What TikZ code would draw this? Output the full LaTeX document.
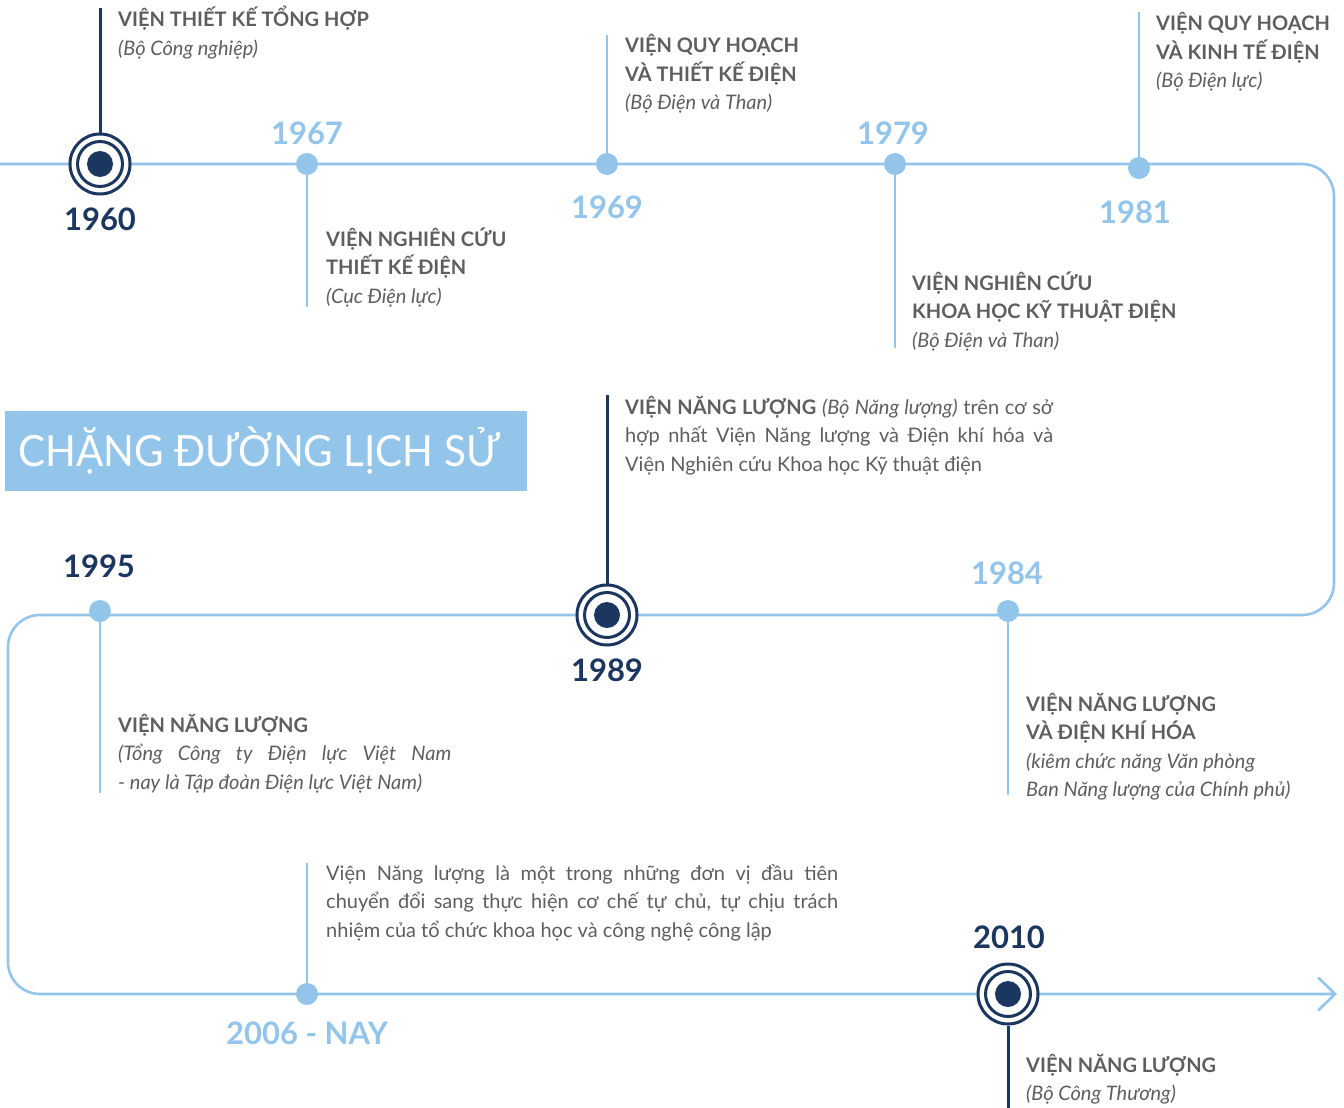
\documentclass[tikz,border=0pt]{standalone}
\usepackage{fontspec}
\setmainfont{Lato}
\usetikzlibrary{arrows.meta}
\definecolor{lblue}{HTML}{93C5EA}
\definecolor{navy}{HTML}{1B365F}
\definecolor{txt}{HTML}{5E5E5E}
\tikzset{
  tline/.style={lblue, line width=2.6pt},
  stemlight/.style={lblue, line width=2.6pt},
  stemdark/.style={navy, line width=3pt},
  dotlight/.style={circle, fill=lblue, minimum size=22pt, inner sep=0pt},
  ringouter/.style={circle, draw=navy, line width=3pt, fill=white, minimum size=60pt, inner sep=0pt},
  ringinner/.style={circle, draw=navy, line width=3pt, minimum size=45pt, inner sep=0pt},
  ringdot/.style={circle, fill=navy, minimum size=26pt, inner sep=0pt},
  yearlight/.style={anchor=base, inner sep=0pt, text=lblue, font=\fontsize{31}{31}\selectfont\bfseries},
  yeardark/.style={anchor=base, inner sep=0pt, text=navy, font=\fontsize{31}{31}\selectfont\bfseries},
  desc/.style={anchor=base west, inner sep=0pt, text=txt, align=left, font=\fontsize{20}{28.5}\selectfont},
}
\begin{document}
\begin{tikzpicture}[x=1pt, y=-1pt]
\useasboundingbox[fill=white] (0,0) rectangle (1344,1108);

% timeline
\coordinate (tstart) at (0,164);
\coordinate (tend) at (1337,994);
\draw[tline, -{Straight Barb[length=17pt, width=33pt, line width=2.6pt]}]
  (tstart) -- (1302,164) arc[start angle=270, end angle=360, radius=32]
  -- (1334,583) arc[start angle=0, end angle=90, radius=32]
  -- (40,615) arc[start angle=270, end angle=180, radius=32]
  -- (8,962) arc[start angle=180, end angle=90, radius=32]
  -- (tend);

% positions
\coordinate (p1960) at (100,164);
\coordinate (p1967) at (307,164);
\coordinate (p1969) at (607,164);
\coordinate (p1979) at (895,164);
\coordinate (p1981) at (1139,168);
\coordinate (p1984) at (1008,611);
\coordinate (p1989) at (607,615);
\coordinate (p1995) at (100,611);
\coordinate (p2006) at (307,994);
\coordinate (p2010) at (1008,994);

% stem ends
\coordinate (e1960) at (100,8);
\coordinate (e1967) at (307,307);
\coordinate (e1969) at (607,35);
\coordinate (e1979) at (895,348);
\coordinate (e1981) at (1139,12);
\coordinate (e1984) at (1008,795);
\coordinate (e1989) at (607,395);
\coordinate (e1995) at (100,793);
\coordinate (e2006) at (307,863);
\coordinate (e2010) at (1008,1108);

% light stems and dots
\draw[stemlight] (p1967) -- (e1967);
\draw[stemlight] (p1969) -- (e1969);
\draw[stemlight] (p1979) -- (e1979);
\draw[stemlight] (p1981) -- (e1981);
\draw[stemlight] (p1984) -- (e1984);
\draw[stemlight] (p1995) -- (e1995);
\draw[stemlight] (p2006) -- (e2006);
\node[dotlight] (d1967) at (p1967) {};
\node[dotlight] (d1969) at (p1969) {};
\node[dotlight] (d1979) at (p1979) {};
\node[dotlight] (d1981) at (p1981) {};
\node[dotlight] (d1984) at (p1984) {};
\node[dotlight] (d1995) at (p1995) {};
\node[dotlight] (d2006) at (p2006) {};

% big markers
\node[ringouter] (m1960) at (p1960) {};
\node[ringinner] (i1960) at (p1960) {};
\node[ringdot] (c1960) at (p1960) {};
\node[ringouter] (m1989) at (p1989) {};
\node[ringinner] (i1989) at (p1989) {};
\node[ringdot] (c1989) at (p1989) {};
\node[ringouter] (m2010) at (p2010) {};
\node[ringinner] (i2010) at (p2010) {};
\node[ringdot] (c2010) at (p2010) {};
\draw[stemdark] (e1960) -- (m1960.north);
\draw[stemdark] (e1989) -- (m1989.north);
\draw[stemdark] (m2010.south) -- (e2010);

% years
\node[yeardark] (y1960) at (100,230) {1960};
\node[yearlight] (y1967) at (307,144) {1967};
\node[yearlight] (y1969) at (607,218) {1969};
\node[yearlight] (y1979) at (893,144) {1979};
\node[yearlight] (y1981) at (1135,223) {1981};
\node[yearlight] (y1984) at (1007,584) {1984};
\node[yeardark] (y1989) at (607,681) {1989};
\node[yeardark] (y1995) at (99,577) {1995};
\node[yearlight] (y2006) at (307,1044) {2006 - NAY};
\node[yeardark] (y2010) at (1009,948) {2010};

% descriptions (base anchor = baseline of last line)
\node[desc] (t1960) at (118,55.5) {\textbf{VIỆN THIẾT KẾ TỔNG HỢP}\\\textit{(Bộ Công nghiệp)}};
\node[desc] (t1967) at (326,303) {\textbf{VIỆN NGHIÊN CỨU}\\\textbf{THIẾT KẾ ĐIỆN}\\\textit{(Cục Điện lực)}};
\node[desc] (t1969) at (625,110) {\textbf{VIỆN QUY HOẠCH}\\\textbf{VÀ THIẾT KẾ ĐIỆN}\\\textit{(Bộ Điện và Than)}};
\node[desc] (t1979) at (912,347) {\textbf{VIỆN NGHIÊN CỨU}\\\textbf{KHOA HỌC KỸ THUẬT ĐIỆN}\\\textit{(Bộ Điện và Than)}};
\node[desc] (t1981) at (1156,88) {\textbf{VIỆN QUY HOẠCH}\\\textbf{VÀ KINH TẾ ĐIỆN}\\\textit{(Bộ Điện lực)}};
\node[desc] (t1989) at (625,471) {\makebox[428pt][s]{\textbf{VIỆN NĂNG LƯỢNG} \textit{(Bộ Năng lượng)} trên cơ sở}\\\makebox[428pt][s]{hợp nhất Viện Năng lượng và Điện khí hóa và}\\Viện Nghiên cứu Khoa học Kỹ thuật điện};
\node[desc] (t1984) at (1026,796.5) {\textbf{VIỆN NĂNG LƯỢNG}\\\textbf{VÀ ĐIỆN KHÍ HÓA}\\\textit{(kiêm chức năng Văn phòng}\\\textit{Ban Năng lượng của Chính phủ)}};
\node[desc] (t1995) at (118,789) {\textbf{VIỆN NĂNG LƯỢNG}\\\itshape\makebox[333pt][s]{(Tổng Công ty Điện lực Việt Nam}\\\itshape - nay là Tập đoàn Điện lực Việt Nam)};
\node[desc] (t2006) at (326,937) {\makebox[512pt][s]{Viện Năng lượng là một trong những đơn vị đầu tiên}\\\makebox[512pt][s]{chuyển đổi sang thực hiện cơ chế tự chủ, tự chịu trách}\\nhiệm của tổ chức khoa học và công nghệ công lập};
\node[desc] (t2010) at (1026,1100.5) {\textbf{VIỆN NĂNG LƯỢNG}\\\textit{(Bộ Công Thương)}};

% title
\node[fill=lblue, minimum width=522pt, minimum height=80pt, inner sep=0pt, anchor=north west] (titlebox) at (5,411) {};
\node[anchor=base west, inner sep=0pt, text=white, font=\fontsize{43}{43}\selectfont] (title) at (18,466) {\scalebox{0.94}[1]{CHẶNG ĐƯỜNG LỊCH SỬ}};
\end{tikzpicture}
\end{document}
